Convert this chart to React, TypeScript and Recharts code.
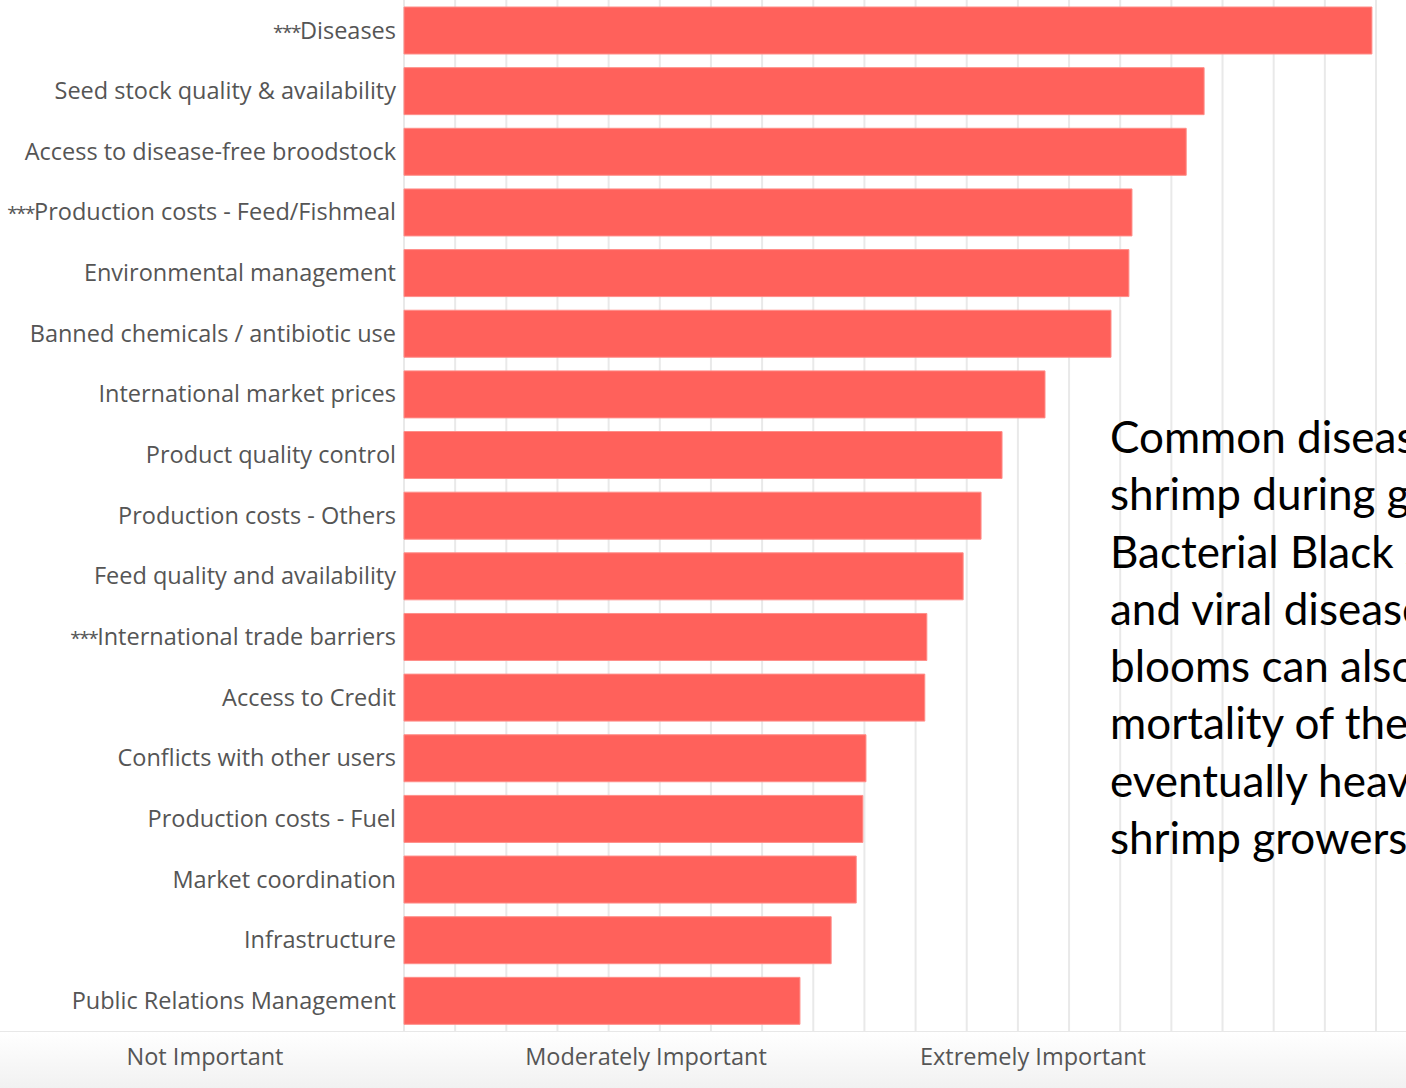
import React from "react";
import { BarChart, Bar, XAxis, YAxis, CartesianGrid } from "recharts";

const issues = [
  "***Diseases",
  "Seed stock quality & availability",
  "Access to disease-free broodstock",
  "***Production costs - Feed/Fishmeal",
  "Environmental management",
  "Banned chemicals / antibiotic use",
  "International market prices",
  "Product quality control",
  "Production costs - Others",
  "Feed quality and availability",
  "***International trade barriers",
  "Access to Credit",
  "Conflicts with other users",
  "Production costs - Fuel",
  "Market coordination",
  "Infrastructure",
  "Public Relations Management",
];

const scores = [
  18.92, 15.64, 15.29, 14.23, 14.17, 13.82, 12.53, 11.69, 11.28,
  10.93, 10.22, 10.18, 9.03, 8.97, 8.84, 8.35, 7.74,
];

const gridTicks = [0, 1, 2, 3, 4, 5, 6, 7, 8, 9, 10, 11, 12, 13, 14, 15, 16, 17, 18, 19];

const scaleLabels = ["Not Important", "Moderately Important", "Extremely Important"];

const noteLines = [
  "Common diseases affecting",
  "shrimp during grow-out are",
  "Bacterial Black Spot, fungal",
  "and viral diseases. Algal",
  "blooms can also cause",
  "mortality of the shrimp and",
  "eventually heavy losses to",
  "shrimp growers.",
];

const data = issues.map((name, i) => ({ name, score: scores[i] }));

const labelFont = "'Open Sans', sans-serif";
const scaleLabelX = [205, 646, 1033];

// Tableau draws the *** markers small and tight, so shrink them
function IssueTick(props: any) {
  const { x, y, payload } = props;
  const label: string = payload.value;
  const m = label.match(/^(\**)(.*)$/);
  const stars = m ? m[1] : "";
  const rest = m ? m[2] : label;
  return (
    <text x={x} y={y} dy="0.35em" textAnchor="end" fontFamily={labelFont} fontSize={23.5} fill="#555">
      {stars && (
        <tspan fontSize={19} letterSpacing={-1.5}>
          {stars}
        </tspan>
      )}
      <tspan>{rest}</tspan>
    </text>
  );
}

export default function App() {
  return (
    <div style={{ position: "absolute", left: 0, top: 0, width: 1406, height: 1088, overflow: "hidden", background: "#fff" }}>
      <BarChart
        width={1406}
        height={1031}
        data={data}
        layout="vertical"
        margin={{ top: 0, right: 30, bottom: 0, left: 0 }}
        barSize={47}
      >
        <CartesianGrid horizontal={false} stroke="#e9e9e9" strokeWidth={2} syncWithTicks />
        <XAxis
          type="number"
          domain={[0, 19]}
          ticks={gridTicks}
          interval={0}
          tick={() => <g />}
          axisLine={false}
          tickLine={false}
          height={0}
        />
        <YAxis
          type="category"
          dataKey="name"
          width={404}
          axisLine={false}
          tickLine={false}
          interval={0}
          tick={<IssueTick />}
        />
        <Bar dataKey="score" fill="#ff615b" stroke="#ff8e89" strokeWidth={1} isAnimationActive={false} />
      </BarChart>
      <div
        style={{
          position: "absolute",
          left: 0,
          top: 1031,
          width: 1406,
          height: 57,
          borderTop: "1.5px solid #e8e8e8",
          background: "linear-gradient(#ffffff, #f1f1f1)",
        }}
      >
        {scaleLabels.map((t, i) => (
          <span
            key={t}
            style={{
              position: "absolute",
              left: scaleLabelX[i],
              top: 8,
              transform: "translateX(-50%)",
              whiteSpace: "nowrap",
              fontFamily: labelFont,
              fontSize: 23.5,
              color: "#555",
            }}
          >
            {t}
          </span>
        ))}
      </div>
      <div
        style={{
          position: "absolute",
          left: 1110,
          top: 408,
          fontFamily: "Lato, 'Open Sans', sans-serif",
          fontSize: 44,
          lineHeight: "57.3px",
          color: "#000",
          whiteSpace: "nowrap",
        }}
      >
        {noteLines.map((l) => (
          <div key={l}>{l}</div>
        ))}
      </div>
    </div>
  );
}
